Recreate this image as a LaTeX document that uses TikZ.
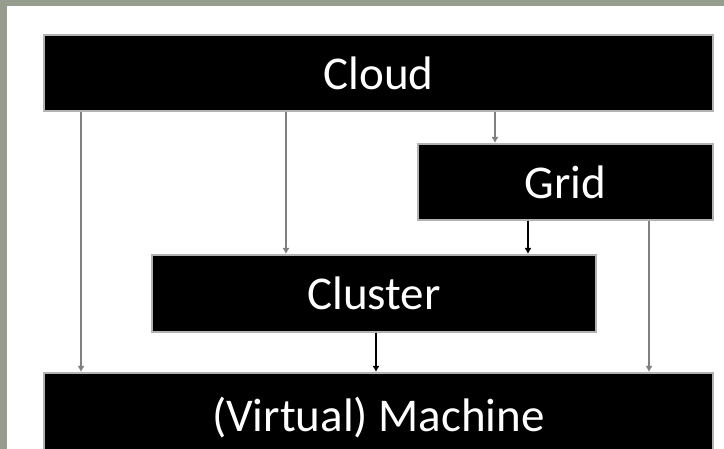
\documentclass[tikz,border=0pt]{standalone}
\usepackage{fontspec}
\setmainfont{Carlito}
\usetikzlibrary{arrows.meta}
\definecolor{photo}{RGB}{150,156,142}
\definecolor{linegray}{RGB}{128,128,128}
\begin{document}
\begin{tikzpicture}[x=1pt,y=-1pt,
        layer/.style={fill=black,draw=black!30,line width=2pt,text=white,
            font=\fontsize{47}{56}\selectfont,inner sep=0pt,
            text height=33pt,text depth=0pt},
        thin/.style={linegray,line width=2pt,-{Latex[length=6pt,width=7pt]}},
        thick/.style={black,line width=2.4pt,-{Latex[length=6pt,width=7pt]}}]
        \useasboundingbox (0,0) rectangle (724,449);
        \fill[photo] (0,0) rectangle (724,449);
        \fill[white] (7,6) rectangle (724,449);
        \clip (0,0) rectangle (724,449);
        \node[layer,minimum width=669,minimum height=76] (cloud) at (378.5,73.5) {Cloud};
        \node[layer,minimum width=295,minimum height=76] (grid) at (565.5,182) {Grid};
        \node[layer,minimum width=444,minimum height=77] (cluster) at (374,293.5) {Cluster};
        \node[layer,minimum width=669,minimum height=84] (machine) at (378.5,415) {(Virtual) Machine};
        % from cloud
        \draw[thin] ([xshift=38]cloud.south west) -- ([xshift=38]machine.north west);
        \draw[thin] ([xshift=243]cloud.south west) -- ([xshift=135]cluster.north west);
        \draw[thin] ([xshift=452]cloud.south west) -- ([xshift=78]grid.north west);
        % from grid
        \draw[thick] ([xshift=111]grid.south west) -- ([xshift=377]cluster.north west);
        \draw[thin] ([xshift=232]grid.south west) -- ([xshift=606]machine.north west);
        % from cluster
        \draw[thick] ([xshift=225]cluster.south west) -- ([xshift=333]machine.north west);
\end{tikzpicture}
\end{document}
